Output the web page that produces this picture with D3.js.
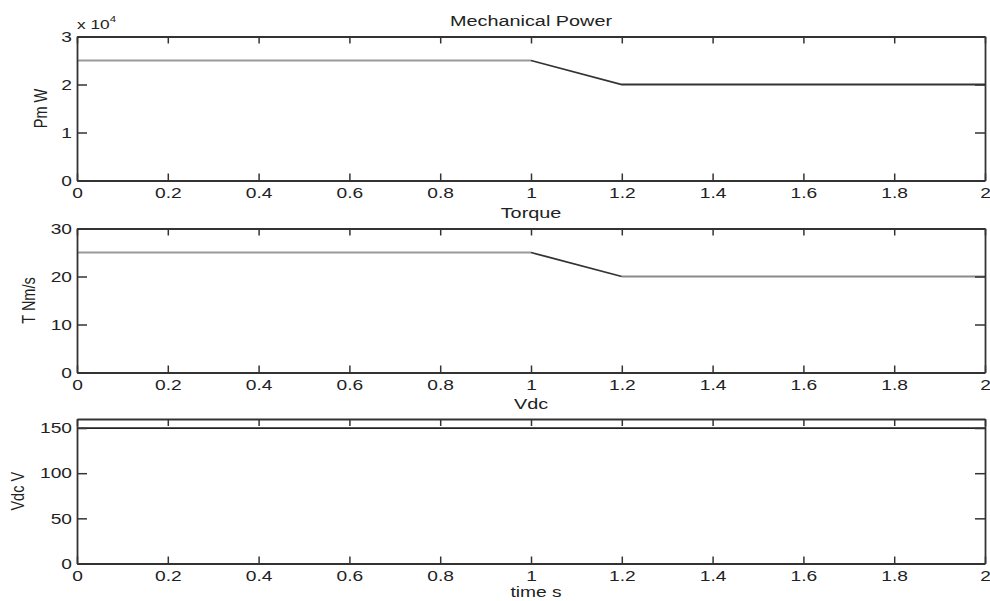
<!DOCTYPE html>
<html><head><meta charset="utf-8">
<script src="https://cdn.jsdelivr.net/npm/d3@7/dist/d3.min.js"></script>
<style>body{margin:0;background:#fff}svg{display:block}text{font-family:"Liberation Sans",Arial,sans-serif;fill:#222}</style>
</head><body><div id="c"></div>
<script>
const xTicks = [0,0.2,0.4,0.6,0.8,1,1.2,1.4,1.6,1.8,2];
const xTickLabels = ["0","0.2","0.4","0.6","0.8","1","1.2","1.4","1.6","1.8","2"];
// Mechanical power (in units of 1e4 W)
const pmTime = [0,1,1.2,2];
const pmValues = [2.5,2.5,2.0,2.0];
const pmYTicks = [0,1,2,3];
// Torque
const tqTime = [0,1,1.2,2];
const tqValues = [25,25,20,20];
const tqYTicks = [0,10,20,30];
// Vdc
const vdcTime = [0,2];
const vdcValues = [150,150];
const vdcYTicks = [0,50,100,150];

const titles = ["Mechanical Power","Torque","Vdc"];
const yLabels = ["Pm W","T Nm/s","Vdc V"];

const W=990,H=601;
const SX=1.28; // horizontal stretch of the reference glyphs
const svg=d3.select("#c").append("svg").attr("width",W).attr("height",H);
const left=77,right=985;
const x=d3.scaleLinear().domain([0,2]).range([left,right]);

const panels=[
 {top:36.5,bottom:180.5,dom:[0,3],t:pmTime,v:pmValues,ticks:pmYTicks,title:titles[0],yl:yLabels[0],ylx:40,seg:[["#9a9a9a",0,1],["#333",1,3]]},
 {top:228.5,bottom:372.5,dom:[0,30],t:tqTime,v:tqValues,ticks:tqYTicks,title:titles[1],yl:yLabels[1],ylx:28,seg:[["#9a9a9a",0,1],["#333",1,2],["#8a8a8a",2,3]]},
 {top:419,bottom:563.5,dom:[0,160],t:vdcTime,v:vdcValues,ticks:vdcYTicks,title:titles[2],yl:yLabels[2],ylx:17,seg:[["#222",0,1]]}
];

function stretchedText(sel,cx,cy,str,size){
  return sel.append("text").attr("transform",`translate(${cx},${cy}) scale(${SX},1)`)
    .attr("text-anchor","middle").attr("font-size",size).text(str);
}

panels.forEach((p,i)=>{
  const y=d3.scaleLinear().domain(p.dom).range([p.bottom,p.top]);
  const g=svg.append("g");
  p.seg.forEach(([col,a,b])=>{
    const pts=d3.range(a,b+1).map(k=>[p.t[k],p.v[k]]);
    g.append("path").datum(pts)
      .attr("d",d3.line().x(d=>x(d[0])).y(d=>y(d[1])))
      .attr("fill","none").attr("stroke",col).attr("stroke-width",1.8);
  });
  const xb=d3.axisBottom(x).tickValues(xTicks).tickFormat((d,j)=>xTickLabels[j]).tickSizeInner(-7).tickSizeOuter(0).tickPadding(7);
  const xt=d3.axisTop(x).tickValues(xTicks).tickFormat("").tickSizeInner(-7).tickSizeOuter(0);
  const yl=d3.axisLeft(y).tickValues(p.ticks).tickFormat(d3.format("d")).tickSizeInner(-10).tickSizeOuter(0).tickPadding(5);
  const yr=d3.axisRight(y).tickValues(p.ticks).tickFormat("").tickSizeInner(-10).tickSizeOuter(0);
  const style=a=>{a.selectAll("path.domain").attr("stroke","#333").attr("stroke-width",1.8);
    a.selectAll(".tick line").attr("stroke","#333").attr("stroke-width",1.5);
    a.selectAll("text").attr("font-size",15).attr("fill","#222").attr("font-family","\"Liberation Sans\",Arial,sans-serif");};
  const gxb=g.append("g").attr("transform",`translate(0,${p.bottom})`).call(xb).call(style);
  gxb.selectAll(".tick text").attr("transform",`scale(${SX},1)`);
  g.append("g").attr("transform",`translate(0,${p.top})`).call(xt).call(style);
  const gyl=g.append("g").attr("transform",`translate(${left},0)`).call(yl).call(style);
  gyl.selectAll(".tick text").attr("x",-5/SX).attr("transform",`scale(${SX},1)`);
  g.append("g").attr("transform",`translate(0,0)`);
  g.append("g").attr("transform",`translate(${right},0)`).call(yr).call(style);
  stretchedText(g,(left+right)/2,p.top-10.5,p.title,15.5);
  g.append("text").attr("transform",`translate(${p.ylx},${(p.top+p.bottom)/2}) rotate(-90) scale(1,${SX})`)
    .attr("text-anchor","middle").attr("dy","0.35em").attr("font-size",14.5).text(p.yl);
});
// exponent
const ex=svg.append("text").attr("transform",`translate(77,29) scale(${SX},1)`).attr("font-size",13.5);
ex.append("tspan").text("x 10");
ex.append("tspan").attr("dy",-7).attr("font-size",9).text("4");
// x label
stretchedText(svg,(left+right)/2+5,597,"time s",15);
</script></body></html>
